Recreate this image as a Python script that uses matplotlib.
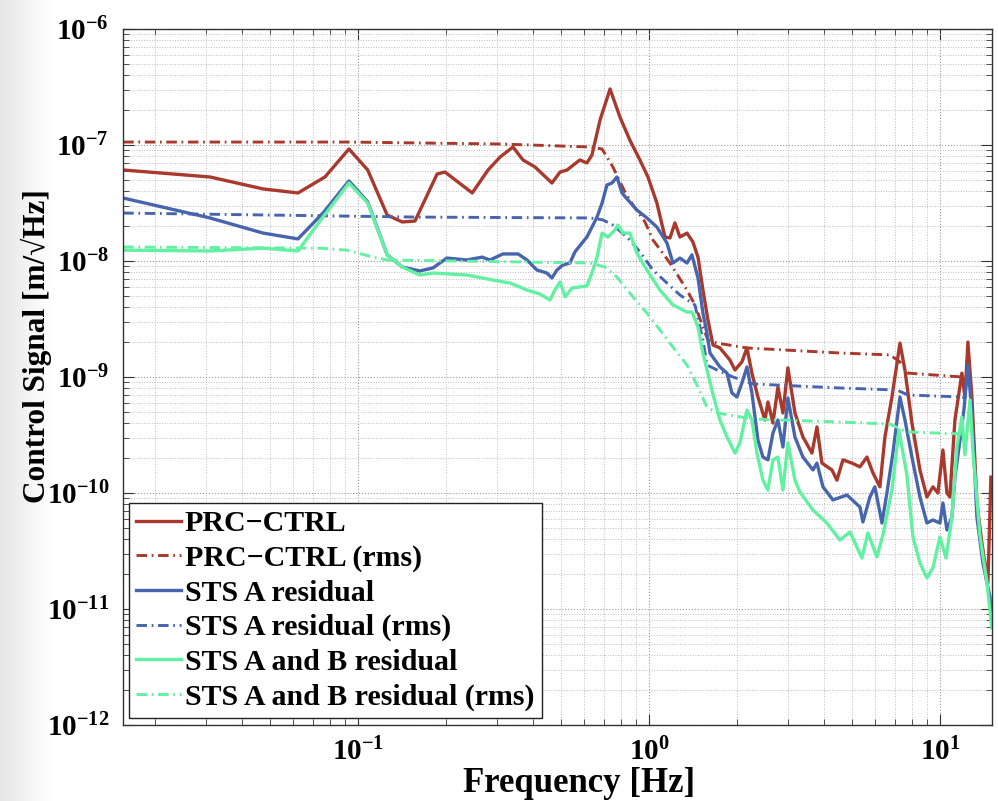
import numpy as np
import matplotlib.pyplot as plt
from matplotlib.ticker import LogLocator, FixedLocator, FuncFormatter, NullFormatter

plt.rcParams['font.family'] = ['Liberation Serif', 'DejaVu Serif']
plt.rcParams['font.weight'] = 'bold'
plt.rcParams['mathtext.fontset'] = 'custom'
plt.rcParams['mathtext.rm'] = 'Liberation Serif:bold'
plt.rcParams['mathtext.it'] = 'Liberation Serif:bold'
plt.rcParams['mathtext.bf'] = 'Liberation Serif:bold'
plt.rcParams['mathtext.default'] = 'rm'

# PRC-CTRL spectrum [Hz], [m/rtHz]
prc_f = [0.0156, 0.0310, 0.0472, 0.0622, 0.0770, 0.0931, 0.108, 0.126, 0.142, 0.157,
         0.187, 0.199, 0.247, 0.280, 0.308, 0.341, 0.369, 0.406, 0.464, 0.495,
         0.523, 0.579, 0.612, 0.637, 0.679, 0.735, 0.795, 0.860, 0.931, 0.992,
         1.065, 1.135, 1.181, 1.228, 1.278, 1.351, 1.416, 1.474, 1.533, 1.595,
         1.660, 1.754, 1.898, 1.975, 2.087, 2.172, 2.259, 2.369, 2.504, 2.564,
         2.668, 2.775, 2.887, 3.003, 3.175, 3.382, 3.632, 3.779, 3.931, 4.255,
         4.426, 4.642, 4.985, 5.310, 5.613, 5.886, 6.220, 6.471, 6.842, 7.288,
         7.582, 8.013, 8.537, 9.022, 9.462, 9.843, 10.24, 10.57, 10.82, 11.26,
         11.90, 12.19, 12.48, 12.88, 13.40, 13.94, 14.62, 14.97]
prc_v = [6.09e-8, 5.30e-8, 4.18e-8, 3.86e-8, 5.30e-8, 9.24e-8, 6.09e-8, 2.49e-8, 2.17e-8, 2.21e-8,
         5.62e-8, 5.85e-8, 3.86e-8, 6.09e-8, 7.88e-8, 9.61e-8, 7.43e-8, 6.46e-8, 4.70e-8, 5.85e-8,
         6.09e-8, 7.43e-8, 7.00e-8, 8.20e-8, 1.64e-7, 3.04e-7, 1.74e-7, 1.10e-7, 7.43e-8, 5.30e-8,
         3.16e-8, 1.61e-8, 1.58e-8, 2.13e-8, 1.61e-8, 1.74e-8, 1.46e-8, 1.08e-8, 5.62e-9, 3.10e-9,
         1.89e-9, 1.78e-9, 1.40e-9, 1.15e-9, 1.35e-9, 1.78e-9, 1.08e-9, 6.72e-10, 4.26e-10, 6.09e-10,
         4.01e-10, 8.20e-10, 4.90e-10, 1.20e-9, 4.90e-10, 3.04e-10, 2.21e-10, 3.71e-10, 1.81e-10, 1.58e-10,
         1.29e-10, 1.93e-10, 1.81e-10, 1.68e-10, 2.04e-10, 1.49e-10, 1.13e-10, 3.04e-10, 6.72e-10, 1.96e-9,
         1.15e-9, 4.01e-10, 1.58e-10, 9.24e-11, 1.13e-10, 1.0e-10, 2.35e-10, 1.0e-10, 9.24e-11, 4.26e-10,
         1.08e-9, 6.72e-10, 2.0e-9, 6.72e-10, 8.20e-11, 3.71e-11, 1.68e-11, 1.37e-10]

prc_rms_f = [0.0156, 0.0939, 0.308, 0.627, 0.690, 0.752, 0.827, 0.881, 0.969, 1.032, 1.181, 1.351,
             1.439, 1.533, 1.595, 1.713, 2.172, 4.532, 6.733, 7.288, 7.762, 11.90, 12.29]
prc_rms_v = [1.06e-7, 1.06e-7, 1.02e-7, 9.61e-8, 9.24e-8, 6.46e-8, 3.93e-8, 3.04e-8, 2.17e-8, 1.52e-8,
             9.61e-9, 5.62e-9, 4.18e-9, 2.70e-9, 2.08e-9, 1.96e-9, 1.78e-9, 1.61e-9, 1.55e-9, 1.35e-9,
             1.08e-9, 1.0e-9, 9.8e-10]

# STS A residual
sts_a_f = [0.0156, 0.0310, 0.0472, 0.0622, 0.0758, 0.0931, 0.108, 0.126, 0.142, 0.163,
           0.181, 0.202, 0.237, 0.267, 0.284, 0.315, 0.355, 0.381, 0.412, 0.446,
           0.464, 0.483, 0.506, 0.535, 0.557, 0.589, 0.612, 0.637, 0.663, 0.690,
           0.717, 0.746, 0.776, 0.808, 0.847, 0.909, 0.984, 1.065, 1.153, 1.209,
           1.278, 1.351, 1.405, 1.474, 1.533, 1.582, 1.621, 1.686, 1.754, 1.854,
           1.928, 2.006, 2.087, 2.172, 2.259, 2.369, 2.465, 2.564, 2.668, 2.775,
           2.887, 3.003, 3.175, 3.382, 3.661, 3.779, 3.963, 4.289, 4.791, 5.310,
           5.437, 5.747, 5.977, 6.321, 6.574, 6.893, 7.288, 7.582, 8.013, 8.537,
           9.022, 9.462, 10.0, 10.24, 10.57, 11.0, 11.26, 11.72, 12.09, 12.48,
           12.88, 13.40, 14.05, 14.85, 15.09]
sts_a_v = [3.49e-8, 2.35e-8, 1.74e-8, 1.55e-8, 2.59e-8, 4.90e-8, 3.23e-8, 1.13e-8, 8.88e-9, 8.20e-9,
           8.71e-9, 1.06e-8, 1.02e-8, 1.08e-8, 1.02e-8, 1.15e-8, 1.15e-8, 1.02e-8, 8.36e-9, 7.88e-9,
           7.14e-9, 8.36e-9, 9.24e-9, 9.61e-9, 1.20e-8, 1.43e-8, 1.61e-8, 1.96e-8, 2.39e-8, 3.16e-8,
           4.52e-8, 4.70e-8, 5.30e-8, 3.86e-8, 3.36e-8, 2.75e-8, 2.35e-8, 1.96e-8, 1.43e-8, 9.61e-9,
           1.06e-8, 9.61e-9, 1.13e-8, 7.14e-9, 3.56e-9, 2.39e-9, 1.61e-9, 1.40e-9, 1.22e-9, 1.08e-9,
           7.28e-10, 6.72e-10, 8.88e-10, 1.22e-9, 7.28e-10, 2.86e-10, 2.04e-10, 1.93e-10, 3.29e-10, 4.26e-10,
           2.49e-10, 6.59e-10, 3.04e-10, 2.04e-10, 1.58e-10, 1.81e-10, 1.13e-10, 8.71e-11, 9.61e-11, 7.57e-11,
           5.62e-11, 9.24e-11, 1.13e-10, 5.51e-11, 1.0e-10, 2.21e-10, 6.72e-10, 4.26e-10, 2.04e-10, 9.24e-11,
           5.51e-11, 5.85e-11, 5.51e-11, 8.20e-11, 4.80e-11, 6.21e-11, 1.37e-10, 2.86e-10, 5.19e-10, 1.27e-9,
           4.90e-10, 6.21e-11, 2.49e-11, 1.27e-11, 8.53e-12]

sts_a_rms_f = [0.0156, 0.163, 0.627, 0.695, 0.752, 0.840, 0.931, 1.032, 1.153, 1.278, 1.439,
               1.533, 1.582, 1.713, 1.944, 2.277, 4.532, 7.116, 7.762, 11.90, 12.29]
sts_a_rms_v = [2.59e-8, 2.39e-8, 2.35e-8, 2.26e-8, 2.04e-8, 1.61e-8, 1.20e-8, 8.36e-9, 6.46e-9, 5.09e-9,
               4.18e-9, 2.08e-9, 1.27e-9, 1.15e-9, 1.0e-9, 8.71e-10, 8.04e-10, 7.72e-10, 7.0e-10, 6.72e-10,
               6.59e-10]

# STS A and B residual
sts_ab_f = [0.0156, 0.0310, 0.0472, 0.0622, 0.0758, 0.0931, 0.108, 0.126, 0.142, 0.163,
            0.181, 0.237, 0.291, 0.333, 0.381, 0.422, 0.457, 0.475, 0.495, 0.515,
            0.544, 0.612, 0.637, 0.663, 0.690, 0.723, 0.764, 0.782, 0.814, 0.860,
            0.909, 0.984, 1.091, 1.209, 1.351, 1.405, 1.474, 1.533, 1.646, 1.754,
            1.854, 1.975, 2.054, 2.172, 2.259, 2.350, 2.465, 2.564, 2.668, 2.775,
            2.887, 3.003, 3.175, 3.303, 3.661, 4.09, 4.532, 4.906, 5.395, 5.656,
            6.074, 6.37, 6.842, 7.231, 7.700, 8.077, 8.537, 9.022, 9.462, 10.0,
            10.49, 11.0, 11.44, 11.90, 12.19, 12.68, 12.98, 13.72, 14.5, 15.09]
sts_ab_v = [1.24e-8, 1.22e-8, 1.29e-8, 1.22e-8, 2.39e-8, 4.70e-8, 3.16e-8, 1.13e-8, 8.88e-9, 7.57e-9,
            7.88e-9, 7.57e-9, 6.85e-9, 6.46e-9, 5.62e-9, 5.19e-9, 4.61e-9, 5.62e-9, 6.59e-9, 4.90e-9,
            5.85e-9, 6.09e-9, 7.88e-9, 1.08e-8, 1.74e-8, 1.61e-8, 1.85e-8, 2.04e-8, 1.74e-8, 1.74e-8,
            1.17e-8, 8.36e-9, 5.62e-9, 4.18e-9, 3.63e-9, 3.63e-9, 2.70e-9, 1.61e-9, 7.72e-10, 4.26e-10,
            3.04e-10, 2.21e-10, 2.70e-10, 5.19e-10, 4.26e-10, 2.21e-10, 1.29e-10, 1.06e-10, 1.93e-10, 2.04e-10,
            1.06e-10, 2.70e-10, 1.29e-10, 1.02e-10, 7.13e-11, 5.51e-11, 3.93e-11, 4.61e-11, 2.75e-11, 4.52e-11,
            2.81e-11, 4.34e-11, 1.06e-10, 3.49e-10, 1.43e-10, 4.18e-11, 2.49e-11, 1.85e-11, 2.26e-11, 4.18e-11,
            2.75e-11, 6.21e-11, 2.49e-10, 4.52e-10, 2.13e-10, 6.33e-10, 2.35e-10, 4.34e-11, 1.71e-11, 6.86e-12]

sts_ab_rms_f = [0.0156, 0.0740, 0.0917, 0.1126, 0.126, 0.627, 0.706, 0.776, 0.881, 0.984, 1.091,
                1.209, 1.351, 1.462, 1.582, 1.713, 2.277, 4.532, 6.733, 7.70, 11.90, 12.29]
sts_ab_rms_v = [1.32e-8, 1.29e-8, 1.24e-8, 1.08e-8, 1.02e-8, 9.61e-9, 8.88e-9, 7.28e-9, 4.90e-9, 3.56e-9,
                2.54e-9, 1.81e-9, 1.27e-9, 8.53e-10, 5.51e-10, 4.90e-10, 4.34e-10, 4.09e-10, 3.93e-10, 3.36e-10,
                3.23e-10, 3.16e-10]

x_ticks = [0.1, 1, 10]
y_ticks = [1e-12, 1e-11, 1e-10, 1e-9, 1e-8, 1e-7, 1e-6]

RED = '#a8392c'
BLUE = '#4765ad'
GREEN = '#62f0a2'
DASHDOT = (0, (3.6, 1.6, 0.6, 1.6))

fig = plt.figure(figsize=(9.98, 8.01), dpi=100)

# faint slide background on the left edge
bg = fig.add_axes([0, 0, 1, 1], zorder=-10)
xs = np.linspace(0, 1, 400)
shade = 0.90 + 0.10 * np.clip(xs / 0.05, 0, 1)
bg.imshow(np.tile(shade, (10, 1)), cmap='gray', vmin=0, vmax=1, aspect='auto',
          extent=[0, 1, 0, 1])
bg.set_axis_off()

ax = fig.add_axes([0.1232, 0.0949, 0.8707, 0.8689])
ax.set_facecolor('white')

ax.loglog(prc_f, prc_v, color=RED, lw=2.4, label='PRC\u2212CTRL')
ax.loglog(prc_rms_f, prc_rms_v, color=RED, lw=2.1, ls=DASHDOT, label='PRC\u2212CTRL (rms)')
ax.loglog(sts_a_f, sts_a_v, color=BLUE, lw=2.4, label='STS A residual')
ax.loglog(sts_a_rms_f, sts_a_rms_v, color=BLUE, lw=2.1, ls=DASHDOT, label='STS A residual (rms)')
ax.loglog(sts_ab_f, sts_ab_v, color=GREEN, lw=2.4, label='STS A and B residual')
ax.loglog(sts_ab_rms_f, sts_ab_rms_v, color=GREEN, lw=2.1, ls=DASHDOT,
          label='STS A and B residual (rms)')

ax.set_xlim(0.01557, 15.09)
ax.set_ylim(1e-12, 1e-6)

ax.xaxis.set_major_locator(FixedLocator(x_ticks))
ax.xaxis.set_minor_locator(LogLocator(base=10, subs=np.arange(2, 10), numticks=20))
ax.yaxis.set_major_locator(FixedLocator(y_ticks))
ax.yaxis.set_minor_locator(LogLocator(base=10, subs=np.arange(2, 10), numticks=20))
fmt = FuncFormatter(lambda v, p: r'$10^{%d}$' % int(round(np.log10(v))))
ax.xaxis.set_major_formatter(fmt)
ax.yaxis.set_major_formatter(fmt)
ax.xaxis.set_minor_formatter(NullFormatter())
ax.yaxis.set_minor_formatter(NullFormatter())

ax.tick_params(which='both', direction='in', top=True, right=True, labelsize=21, color='#333333')
ax.tick_params(which='major', length=8, width=0.8)
ax.tick_params(which='minor', length=4, width=0.6)
ax.tick_params(axis='x', pad=9)
ax.tick_params(axis='y', pad=10)

ax.grid(True, which='major', ls=':', color='#9a9a9a', lw=0.8)
ax.grid(True, which='minor', ls=':', color='#bdbdbd', lw=0.7)
for s in ax.spines.values():
    s.set_color('#333333')
    s.set_linewidth(1.0)

ax.set_xlabel('Frequency [Hz]', fontsize=25, fontweight='bold')
ax.set_ylabel('Control Signal [m/\u221aHz]', fontsize=22.5, fontweight='bold')
ax.xaxis.set_label_coords(0.525, -0.060)
ax.yaxis.set_label_coords(-0.082, 0.545)

leg = ax.legend(loc='lower left', bbox_to_anchor=(0.0069, 0.01), borderaxespad=0,
                fontsize=21.5, frameon=True, fancybox=False, edgecolor='#222222',
                framealpha=1, handlelength=1.5, handletextpad=0.12, labelspacing=0.25,
                borderpad=0.25)
leg.get_frame().set_linewidth(1.0)

fig.savefig('out.png', dpi=100)
